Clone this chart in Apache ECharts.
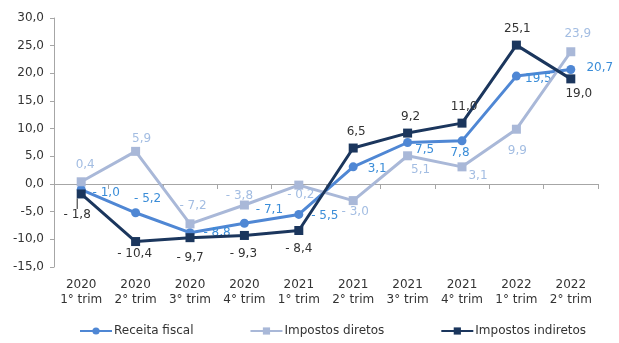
<!DOCTYPE html>
<html>
<head>
<meta charset="utf-8">
<script src="https://cdn.jsdelivr.net/npm/echarts@6/dist/echarts.min.js"></script>
<style>html,body{margin:0;padding:0;background:#fff;}#c{width:619px;height:343px;}</style>
</head>
<body>
<div id="c"></div>
<script>
const categories = ['2020\n1° trim','2020\n2° trim','2020\n3° trim','2020\n4° trim','2021\n1° trim','2021\n2° trim','2021\n3° trim','2021\n4° trim','2022\n1° trim','2022\n2° trim'];
const receitaFiscal = [-1.0, -5.2, -8.8, -7.1, -5.5, 3.1, 7.5, 7.8, 19.5, 20.7];
const impostosDiretos = [0.4, 5.9, -7.2, -3.8, -0.2, -3.0, 5.1, 3.1, 9.9, 23.9];
const impostosIndiretos = [-1.8, -10.4, -9.7, -9.3, -8.4, 6.5, 9.2, 11.0, 25.1, 19.0];
const yMin = -15, yMax = 30, yInterval = 5;

// label offsets (label centre relative to point), in px
const receitaOffsets = [[25,3],[12,-14],[27,0],[25,-13],[26,1],[24,2],[17,7],[-2,12],[22,3],[29,-2]];
const diretosOffsets = [[4,-17],[6,-12],[3,-18],[-5,-9],[2,10],[2,11],[13,14],[16,9],[1,22],[7,-18]];
const indiretosOffsets = [[-4,21],[-1,12],[0,20],[-1,18],[0,18],[3,-16],[3,-16],[2,-16],[1,-16],[8,15]];

const FONT = 'DejaVu Sans';
function fmt(v){ return (v < 0 ? '- ' + Math.abs(v).toFixed(1) : v.toFixed(1)).replace('.', ','); }

function build(values, offsets){
  return values.map((v,i) => ({ value: v, label: { offset: offsets[i] } }));
}

const chart = echarts.init(document.getElementById('c'), null, {renderer:'canvas'});
chart.setOption({
  animation: false,
  backgroundColor: '#fff',
  grid: { left: 54, right: 21, top: 18, bottom: 76, containLabel: false, outerBoundsMode: 'none' },
  legend: {
    bottom: 1, left: 74, itemGap: 56, itemWidth: 32, itemHeight: 9,
    textStyle: { fontFamily: FONT, fontSize: 12, color: '#333', padding: [0, 0, 0, -3] },
    data: ['Receita fiscal','Impostos diretos','Impostos indiretos']
  },
  xAxis: [
    {
      type: 'category', data: categories, boundaryGap: true, position: 'bottom',
      axisLine: { show: false, onZero: false },
      axisTick: { show: false },
      axisLabel: { margin: 10, fontFamily: FONT, fontSize: 12, color: '#333', lineHeight: 15, interval: 0 },
      splitLine: { show: false }
    },
    {
      type: 'category', data: categories, boundaryGap: true, position: 'top',
      axisLine: { show: true, onZero: true, lineStyle: { color: '#A6A6A6', width: 1 } },
      axisTick: { show: true, inside: true, length: 5, lineStyle: { color: '#A6A6A6' } },
      axisLabel: { show: false },
      splitLine: { show: false }
    }
  ],
  yAxis: {
    type: 'value', min: yMin, max: yMax, interval: yInterval,
    axisLine: { show: true, lineStyle: { color: '#A6A6A6' } },
    axisTick: { show: true, length: 4, lineStyle: { color: '#A6A6A6' } },
    axisLabel: { margin: 10, fontFamily: FONT, fontSize: 12, color: '#333', formatter: v => v.toFixed(1).replace('.', ',') },
    splitLine: { show: false }
  },
  series: [
    {
      name: 'Receita fiscal', type: 'line', data: build(receitaFiscal, receitaOffsets),
      symbol: 'circle', symbolSize: 9,
      itemStyle: { color: '#4F87D4' }, lineStyle: { width: 3, color: '#4F87D4' },
      label: { show: true, position: 'inside', formatter: p => fmt(p.value), fontFamily: FONT, fontSize: 12, color: '#3B8DD8' },
      z: 2
    },
    {
      name: 'Impostos diretos', type: 'line', data: build(impostosDiretos, diretosOffsets),
      symbol: 'rect', symbolSize: 9,
      itemStyle: { color: '#A9B8D8' }, lineStyle: { width: 3, color: '#A9B8D8' },
      label: { show: true, position: 'inside', formatter: p => fmt(p.value), fontFamily: FONT, fontSize: 12, color: '#A3BDE2' },
      z: 3
    },
    {
      name: 'Impostos indiretos', type: 'line',
      data: impostosIndiretos.map((v,i) => ({ value: v, labelLine: { show: i === 0 } })),
      symbol: 'rect', symbolSize: 9,
      itemStyle: { color: '#1B365D' }, lineStyle: { width: 3, color: '#1B365D' },
      label: { show: true, position: 'inside', formatter: p => fmt(p.value), fontFamily: FONT, fontSize: 12, color: '#333' },
      labelLine: { show: false, lineStyle: { color: '#222', width: 1 } },
      labelLayout: p => ({ dx: indiretosOffsets[p.dataIndex][0], dy: indiretosOffsets[p.dataIndex][1] }),
      z: 4
    }
  ]
});
</script>
</body>
</html>
